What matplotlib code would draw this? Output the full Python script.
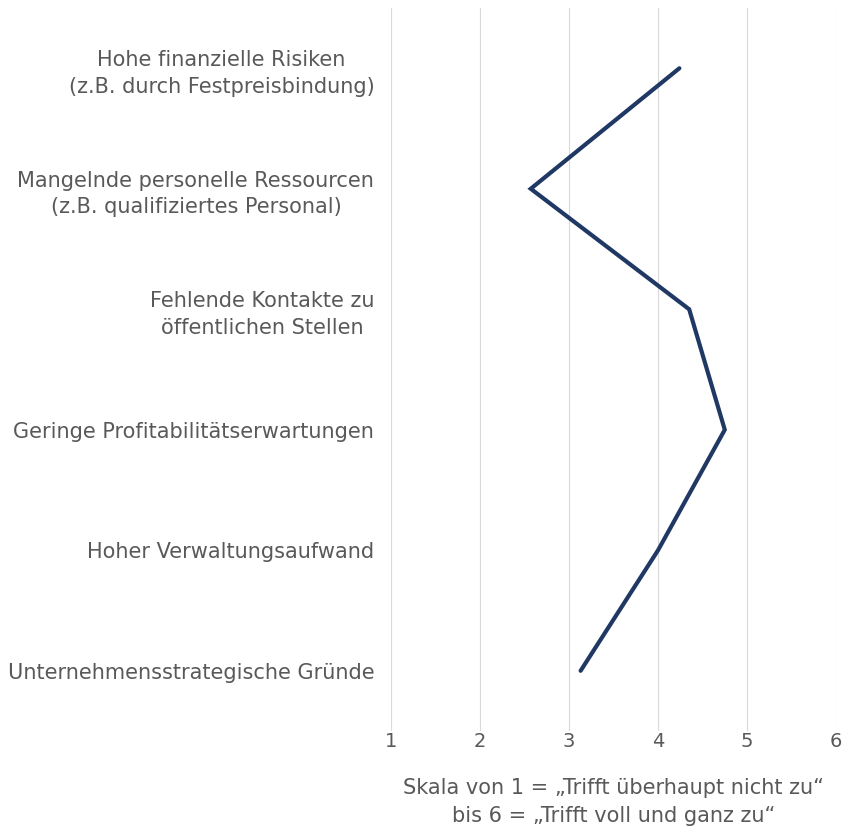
import matplotlib.pyplot as plt

# Kategorien (von oben nach unten) und Mittelwerte
categories = [
    "Hohe finanzielle Risiken\n(z.B. durch Festpreisbindung)",
    "Mangelnde personelle Ressourcen\n(z.B. qualifiziertes Personal)",
    "Fehlende Kontakte zu\nöffentlichen Stellen",
    "Geringe Profitabilitätserwartungen",
    "Hoher Verwaltungsaufwand",
    "Unternehmensstrategische Gründe",
]
values = [4.24, 2.57, 4.35, 4.75, 4.0, 3.13]
x_ticks = [1, 2, 3, 4, 5, 6]

text_color = "#595959"
line_color = "#203864"

plt.rcParams["font.family"] = ["DejaVu Sans"]

fig = plt.figure(figsize=(8.42, 8.33), dpi=100)
ax = fig.add_axes([0.4644, 0.1224, 0.5285, 0.868])

y = list(range(len(categories)))
ax.plot(values, y, color=line_color, linewidth=3,
        solid_capstyle="round", solid_joinstyle="miter")

ax.set_xlim(1, 6)
ax.set_ylim(len(categories) - 0.5, -0.5)
ax.set_xticks(x_ticks)
ax.set_xticklabels([str(t) for t in x_ticks])
ax.set_yticks(y)
ax.set_yticklabels(categories)

for lbl in ax.get_yticklabels():
    lbl.set_multialignment("center")
    lbl.set_linespacing(1.4)

ax.tick_params(axis="y", length=0, labelsize=15, labelcolor=text_color, pad=12)
ax.tick_params(axis="x", length=0, labelsize=14, labelcolor=text_color, pad=1)

ax.grid(axis="x", color="#D9D9D9", linewidth=0.8)
ax.set_axisbelow(True)
for s in ax.spines.values():
    s.set_visible(False)

ax.set_xlabel("Skala von 1 = „Trifft überhaupt nicht zu“\nbis 6 = „Trifft voll und ganz zu“",
              fontsize=15, color=text_color, labelpad=19, linespacing=1.5)

fig.savefig("out.png", dpi=100)
